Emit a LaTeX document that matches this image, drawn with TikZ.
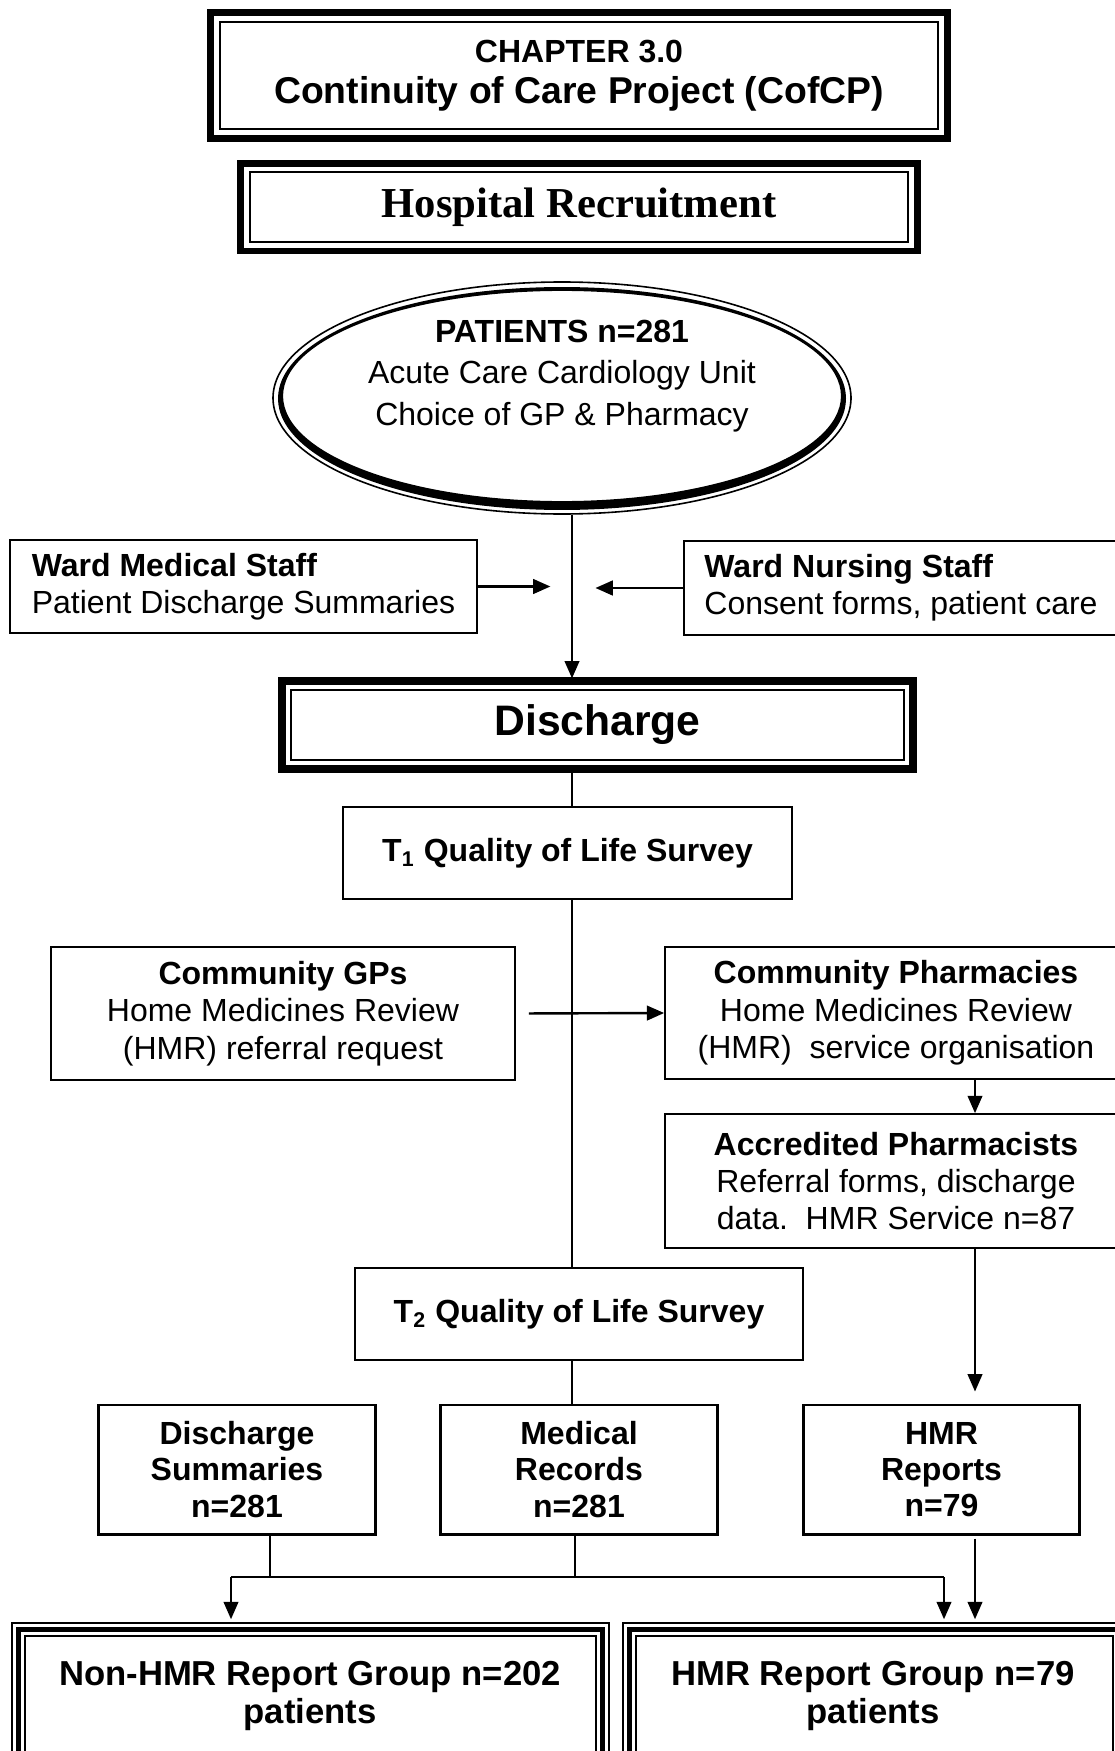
\documentclass[tikz,border=0pt]{standalone}
\usepackage{fontspec}
\setmainfont{Liberation Sans}
\newfontfamily\recruitfont{Liberation Serif}
\usetikzlibrary{fit,calc,arrows.meta,shapes.geometric}

% heavy outer rule drawn around a node: #1 node, #2 rule width, #3 offset
\newcommand\thickframe[3]{%
  \draw[line width=#2] ([shift={(-#3,#3)}]#1.north west) rectangle ([shift={(#3,-#3)}]#1.south east);}
% thin outer rule around a node: #1 node, #2 offset
\newcommand\thinframe[2]{%
  \draw[line width=0.6pt] ([shift={(-#2,#2)}]#1.north west) rectangle ([shift={(#2,-#2)}]#1.south east);}

\begin{document}
\begin{tikzpicture}[x=0.375pt,y=-0.375pt,
  base/.style={inner sep=0pt, align=center, font=\fontsize{12}{14}\selectfont},
  box/.style={base, draw, line width=0.65pt},
  heavybox/.style={base, draw, line width=1.1pt, font=\bfseries\fontsize{12}{13.6}\selectfont,
                   minimum width=103.6pt, minimum height=48.4pt},
  grouptext/.style={base, font=\bfseries\fontsize{13}{14.5}\selectfont},
  line/.style={line width=0.7pt},
  arr/.style={line, -{Triangle[length=6.5pt,width=5.5pt]}},
]
\useasboundingbox (0,0) rectangle (1115,1751);
\clip (0,0) rectangle (1115,1751);

% guide columns for the connectors
\coordinate (axis) at (572,0);
\coordinate (rcol) at (975,0);
\coordinate (dsx) at (270,1577);
\coordinate (mrx) at (575,1577);
\coordinate (jl) at (231,1577);
\coordinate (jr) at (944,1577);

% title blocks
\node[box, line width=0.75pt, minimum width=269.25pt, minimum height=40.1pt,
      font=\bfseries\fontsize{14}{15.5}\selectfont] (chap) at (579,75.5)
  {{\fontsize{12}{15.5}\selectfont CHAPTER 3.0}\\Continuity of Care Project (CofCP)};
\thickframe{chap}{2.6pt}{3.1pt}

\node[box, line width=0.75pt, minimum width=247.1pt, minimum height=26.1pt,
      font=\recruitfont\bfseries\fontsize{16}{18}\selectfont] (recruit) at (579,207.25)
  {Hospital Recruitment};
\thickframe{recruit}{2.4pt}{3pt}

% patients: thin outer ellipse, crescent-weighted heavy ring inside it
\node[ellipse, draw, line width=0.6pt, minimum width=216.75pt, minimum height=87pt,
      inner sep=0pt] (pat) at (562,398) {};
\fill[even odd rule] ($(pat.center)+(0,0.5)$) ellipse [x radius=106.5pt, y radius=41.8pt]
  ($(pat.center)+(0,-2)$) ellipse [x radius=104.6pt, y radius=39.4pt];
\node[base, font=\fontsize{12}{15.6}\selectfont] (pattext) at (562,376)
  {\textbf{PATIENTS n=281}\\Acute Care Cardiology Unit\\Choice of GP \& Pharmacy};

% ward staff
\node[box, align=left, minimum width=175.1pt, minimum height=34.9pt]
  (wms) at (243.5,586.5) {\textbf{Ward Medical Staff}\\Patient Discharge Summaries};
\node[box, align=left, minimum width=162.75pt, minimum height=35.25pt]
  (wns) at (901,588) {\textbf{Ward Nursing Staff}\\Consent forms, patient care};

% discharge
\node[box, line width=0.75pt, minimum width=229.9pt, minimum height=26.25pt,
      font=\bfseries\fontsize{16}{18}\selectfont] (dis) at (597.5,725) {Discharge};
\thickframe{dis}{2.8pt}{3pt}

\node[box, minimum width=168.4pt, minimum height=34.5pt,
      font=\bfseries\fontsize{12}{14}\selectfont] (t1) at (567.5,853)
  {T\textsubscript{1} Quality of Life Survey};

\node[box, minimum width=174pt, minimum height=49.9pt] (gp) at (283,1013.5)
  {\textbf{Community GPs}\\Home Medicines Review\\(HMR) referral request};
\node[box, minimum width=173.25pt, minimum height=49.5pt] (cp) at (896,1013)
  {\textbf{Community Pharmacies}\\Home Medicines Review\\(HMR)\ \ service organisation};
\node[box, minimum width=173.25pt, minimum height=50.25pt] (acc) at (896,1181)
  {\textbf{Accredited Pharmacists}\\Referral forms, discharge\\data.\ \ HMR Service n=87};

\node[box, minimum width=168pt, minimum height=34.5pt,
      font=\bfseries\fontsize{12}{14}\selectfont] (t2) at (579,1314)
  {T\textsubscript{2} Quality of Life Survey};

% data sources
\node[heavybox] (ds) at (237,1469.5) {Discharge\\Summaries\\n=281};
\node[heavybox] (mr) at (579,1469.5) {Medical\\Records\\n=281};
\node[heavybox] (hmr) at (941.5,1469.5) {HMR\\Reports\\n=79};

% report groups
\node[draw, line width=0.6pt, inner sep=0pt, fit={(25,1636)(596,1800)}] (nonhmr) {};
\thickframe{nonhmr}{1.9pt}{2.25pt}
\thinframe{nonhmr}{4.5pt}
\node[grouptext] (nonhmrtext) at (310,1696) {Non-HMR Report Group n=202\\patients};

\node[draw, line width=0.6pt, inner sep=0pt, fit={(636,1636)(1113,1800)}] (hmrg) {};
\thickframe{hmrg}{1.9pt}{2.25pt}
\thinframe{hmrg}{4.5pt}
\node[grouptext] (hmrgtext) at (873,1696) {HMR Report Group n=79\\patients};

% connectors
\draw[arr, line width=0.75pt, shorten >=4pt] (pat.south -| axis) -- (dis.north -| axis);
\draw[arr, line width=0.9pt, shorten >=8.1pt] (wms.east) -- (wms.east -| axis);
\draw[arr, line width=0.9pt, shorten >=8.8pt] (wns.west) -- (wns.west -| axis);
\draw[line, shorten <=4pt] (dis.south -| axis) -- (t1.north -| axis);
\draw[line] (t1.south -| axis) -- (t2.north -| axis);
\draw[arr, line width=0.9pt, shorten <=4.9pt] (gp.east) -- (cp.west);
\draw[arr] (cp.south -| rcol) -- (acc.north -| rcol);
\draw[arr, shorten >=4.5pt] (acc.south -| rcol) -- (hmr.north -| rcol);
\draw[line] (t2.south -| axis) -- (mr.north -| axis);
\draw[line] (ds.south -| dsx) -- (dsx);
\draw[line] (mr.south -| mrx) -- (mrx);
\draw[line] (jl) -- (jr);
\draw[arr, shorten >=6pt] (jl) -- (nonhmr.north -| jl);
\draw[arr, shorten >=6pt] (jr) -- (hmrg.north -| jr);
\draw[arr, shorten <=1.2pt, shorten >=6pt] (hmr.south -| rcol) -- (hmrg.north -| rcol);
\end{tikzpicture}
\end{document}
